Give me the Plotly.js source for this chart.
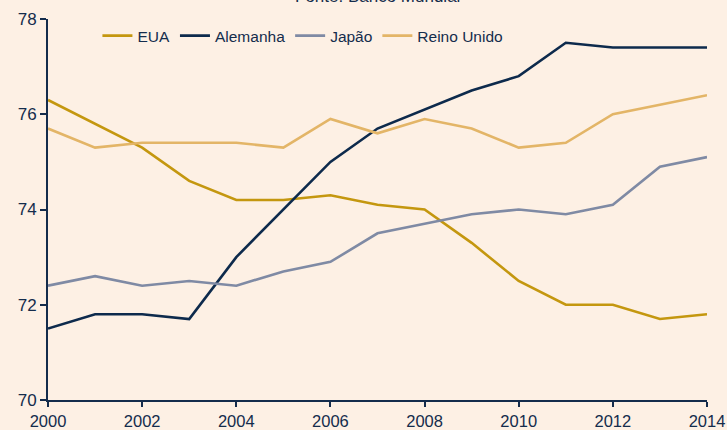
<!DOCTYPE html>
<html><head><meta charset="utf-8">
<script src="https://cdn.plot.ly/plotly-3.0.1.min.js"></script>
<style>html,body{margin:0;padding:0;background:#FDF0E4;}</style>
</head><body>
<div id="chart" style="width:727px;height:430px;"></div>
<script>
const years = [2000,2001,2002,2003,2004,2005,2006,2007,2008,2009,2010,2011,2012,2013,2014];
const eua = [76.3,75.8,75.3,74.6,74.2,74.2,74.3,74.1,74.0,73.3,72.5,72.0,72.0,71.7,71.8];
const alemanha = [71.5,71.8,71.8,71.7,73.0,74.0,75.0,75.7,76.1,76.5,76.8,77.5,77.4,77.4,77.4];
const japao = [72.4,72.6,72.4,72.5,72.4,72.7,72.9,73.5,73.7,73.9,74.0,73.9,74.1,74.9,75.1];
const reinoUnido = [75.7,75.3,75.4,75.4,75.4,75.3,75.9,75.6,75.9,75.7,75.3,75.4,76.0,76.2,76.4];
const seriesNames = ["EUA","Alemanha","Japão","Reino Unido"];
const yTicks = [70,72,74,76,78];
const xTicks = [2000,2002,2004,2006,2008,2010,2012,2014];

const navy = "#142c4c";
const colors = ["#C4970F","#0d2a4c","#7f8aa4","#E3B567"];
const data = [eua, alemanha, japao, reinoUnido].map((v,i)=>({
  x: years, y: v, type:"scatter", mode:"lines", name: seriesNames[i],
  line:{color:colors[i], width:2.6}
}));

const layout = {
  width:727, height:430,
  paper_bgcolor:"#FDF0E4", plot_bgcolor:"#FDF0E4",
  margin:{l:48,r:20,t:19,b:30},
  font:{family:"Liberation Sans, Arial, sans-serif", color:navy},
  showlegend:true,
  legend:{orientation:"h", x:0.075, y:1.0, xanchor:"left", yanchor:"top",
    bgcolor:"rgba(0,0,0,0)", font:{size:15.5, color:navy}, itemwidth:30, tracegroupgap:0},
  xaxis:{range:[2000,2014], tickvals:xTicks, ticktext:xTicks.map(String),
    showgrid:false, zeroline:false, showline:true, linecolor:navy, linewidth:2,
    ticks:"outside", ticklen:5, tickwidth:2, tickcolor:navy,
    tickfont:{size:16.5, color:navy}},
  yaxis:{range:[70,78], tickvals:yTicks, ticktext:yTicks.map(String),
    showgrid:false, zeroline:false, showline:true, linecolor:navy, linewidth:2,
    ticks:"outside", ticklen:6, tickwidth:2, tickcolor:navy,
    tickfont:{size:17, color:navy}},
  annotations:[{text:"Fonte: Banco Mundial", xref:"paper", yref:"paper", x:0.5, y:1,
    xanchor:"center", yanchor:"bottom", yshift:11, showarrow:false,
    font:{size:17, color:navy}}]
};
Plotly.newPlot("chart", data, layout, {displayModeBar:false});
</script>
</body></html>
